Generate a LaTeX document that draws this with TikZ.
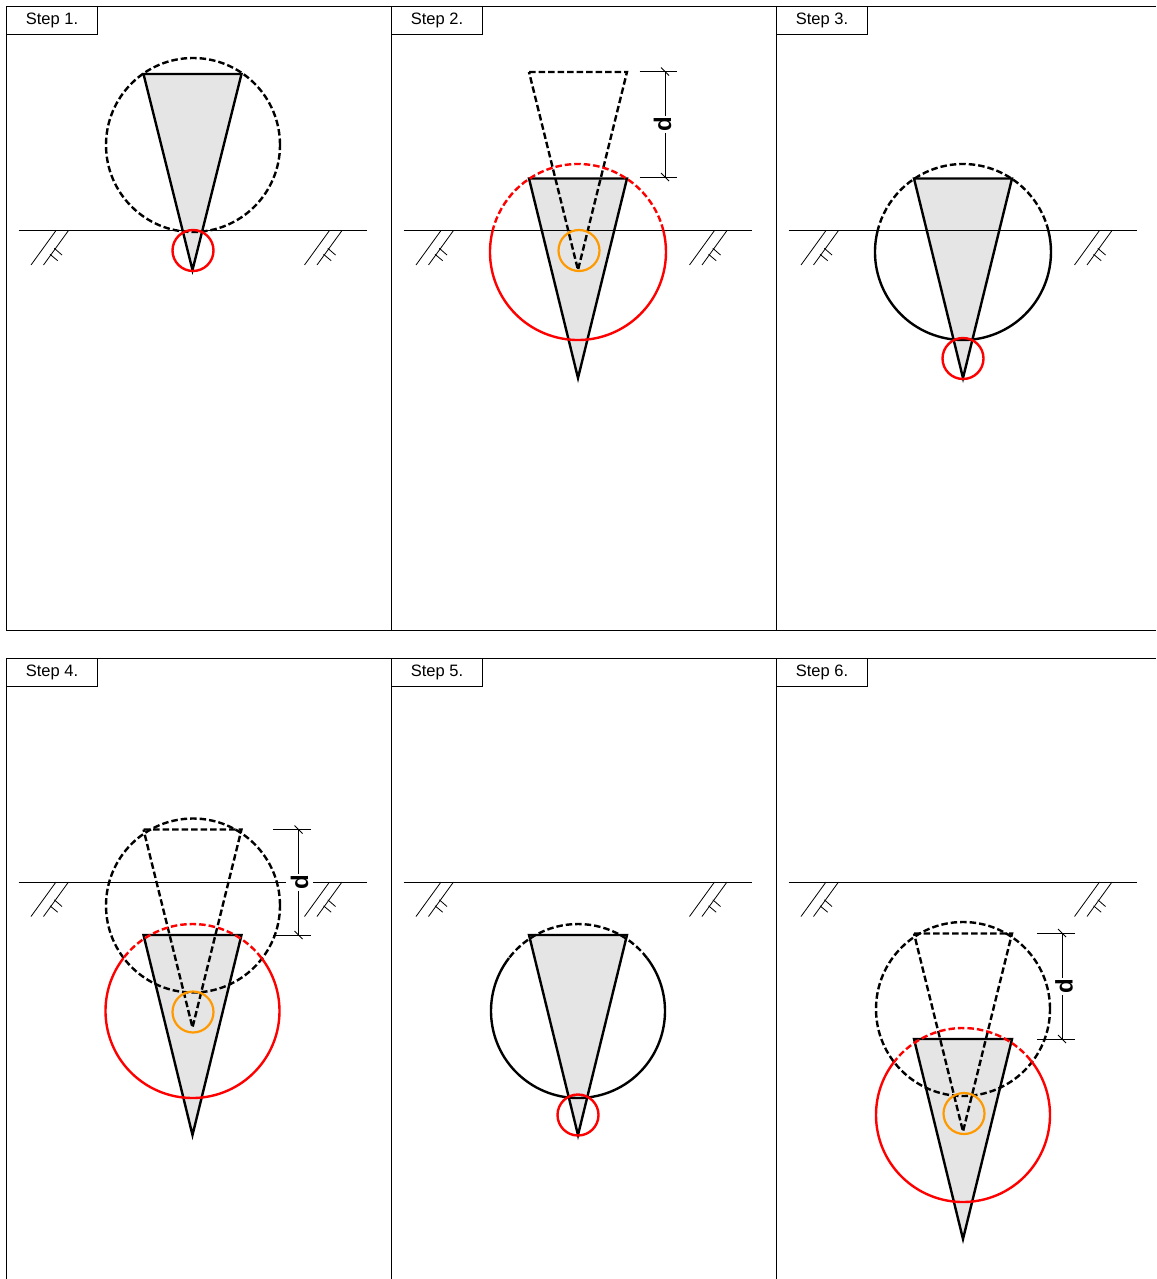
\documentclass[tikz,border=0pt]{standalone}
\usepackage{fontspec}
\setmainfont{Liberation Sans}
\definecolor{conefill}{HTML}{E5E5E5}
\definecolor{drillorange}{HTML}{FF9900}
\tikzset{
  thinline/.style={draw=black,line width=1pt},
  heavy/.style={draw=black,line width=2.4pt},
  heavydash/.style={heavy,dash pattern=on 6.5pt off 3pt},
  redline/.style={draw=red,line width=2.4pt},
  reddash/.style={redline,dash pattern=on 6.5pt off 3pt},
  orangeline/.style={draw=drillorange,line width=2.2pt},
  steplabel/.style={draw=black,fill=white,line width=1pt,minimum width=91pt,minimum height=27.5pt,inner sep=0pt,font=\fontsize{16.5}{18}\selectfont},
  dimlabel/.style={fill=white,rotate=90,inner xsep=1pt,inner ysep=5pt,font=\bfseries\fontsize{24}{24}\selectfont}
}
% #1 centre x, #2 top y, #3 height
\newcommand{\solidcone}[3]{%
  \fill[conefill] (#1-49,#2) -- (#1+49,#2) -- (#1,#2+#3) -- cycle;}
\newcommand{\conestroke}[3]{%
  \draw[heavy] (#1-49,#2) -- (#1+49,#2) -- (#1,#2+#3) -- cycle;}
\newcommand{\ghostcone}[2]{%
  \draw[heavydash] (#1-49,#2) -- (#1+49,#2) -- (#1,#2+198) -- cycle;}
% #1 x offset, #2 ground y
\newcommand{\groundline}[2]{%
  \begin{scope}[shift={(#1,#2)}]
    \draw[thinline] (18.5,0) -- (367,0);
    \foreach \hx in {0,273.5}{
      \draw[thinline,line width=.8pt] (\hx+56,0) -- (\hx+31,34.5);
      \draw[thinline,line width=.8pt] (\hx+68.5,0) -- (\hx+43.5,34.5);
      \draw[thinline,line width=.8pt] (\hx+54.3,17.8) -- (\hx+62,24.5);
      \draw[thinline,line width=.8pt] (\hx+50,23.8) -- (\hx+57.7,30.2);
    }
  \end{scope}}
% #1 cx, #2 cy, #3 r, #4 angle, #5 dashed style, #6 solid style
\newcommand{\splitcircle}[6]{%
  \draw[#5] (#1,#2) ++(#4:#3pt) arc[start angle=#4,end angle=180-#4,radius=#3pt];
  \draw[#6] (#1,#2) ++(180-#4:#3pt) arc[start angle=180-#4,end angle=360+#4,radius=#3pt];}
% #1 name, #2 x left, #3 x right, #4 x line, #5 y top, #6 y bottom, #7 label x, #8 label y
\newcommand{\dimension}[8]{%
  \draw[thinline] (#2,#5) -- (#3,#5);
  \draw[thinline] (#2,#6) -- (#3,#6);
  \draw[thinline,line width=.8pt] (#4,#5) -- (#4,#6);
  \draw[thinline,line width=.8pt] (#4-4,#5-4) -- (#4+4,#5+4);
  \draw[thinline,line width=.8pt] (#4-4,#6-4) -- (#4+4,#6+4);
  \node[dimlabel] (#1) at (#7,#8) {d};}
\newcommand{\steptext}[1]{\raisebox{-1.2pt}{#1}}
\begin{document}
\begin{tikzpicture}[x=1pt,y=-1pt]
\useasboundingbox (0,0) rectangle (1156,1279);
\fill[white] (0,0) rectangle (1156,1279);

% frames
\draw[thinline] (1156,7) -- (6.5,7) -- (6.5,630.5) -- (1156,630.5);
\draw[thinline] (391.5,7) -- (391.5,630.5);
\draw[thinline] (776.5,7) -- (776.5,630.5);
\draw[thinline] (6.5,1279) -- (6.5,658.5) -- (1156,658.5);
\draw[thinline] (391.5,658.5) -- (391.5,1279);
\draw[thinline] (776.5,658.5) -- (776.5,1279);

% Step 1
\solidcone{192.5}{74}{196}
\groundline{0}{230.5}
\conestroke{192.5}{74}{196}
\draw[heavydash] (193,145) circle (87pt);
\draw[redline] (193,250.5) circle (20.5pt);

% Step 2
\solidcone{578}{178.5}{199.5}
\groundline{385}{230.5}
\conestroke{578}{178.5}{199.5}
\ghostcone{578}{72}
\splitcircle{578}{252}{88}{14}{reddash}{redline}
\draw[orangeline] (579,250.5) circle (20.5pt);
\dimension{d2}{639.5}{677}{665}{71.5}{177}{662.5}{124.5}

% Step 3
\solidcone{963}{178.5}{199.5}
\groundline{770}{230.5}
\conestroke{963}{178.5}{199.5}
\splitcircle{963}{252}{88}{14}{heavydash}{heavy}
\draw[redline] (963,358.5) circle (20.5pt);

% Step 4
\solidcone{192.5}{935}{200}
\groundline{0}{882}
\conestroke{192.5}{935}{200}
\ghostcone{192.5}{829.5}
\draw[heavydash] (193,905.5) circle (87pt);
\splitcircle{192.5}{1011}{87}{37.5}{reddash}{redline}
\draw[orangeline] (193,1012) circle (20.5pt);
\dimension{d4}{273}{311}{298.5}{829.5}{935}{299.5}{882.5}

% Step 5
\solidcone{578}{935}{200}
\groundline{385}{882}
\conestroke{578}{935}{200}
\splitcircle{578}{1011}{87}{37.5}{heavydash}{heavy}
\draw[redline] (578,1115) circle (20.5pt);

% Step 6
\solidcone{963}{1039}{200}
\groundline{770}{882}
\conestroke{963}{1039}{200}
\ghostcone{963}{933.5}
\draw[heavydash] (963,1009) circle (87pt);
\splitcircle{963}{1115}{87}{39}{reddash}{redline}
\draw[orangeline] (964,1113.5) circle (20.5pt);
\dimension{d6}{1037}{1075}{1062}{933}{1039}{1064}{986.5}

% labels
\node[steplabel,anchor=north west] (s1) at (6,6.5) {\steptext{Step 1.}};
\node[steplabel,anchor=north west] (s2) at (391,6.5) {\steptext{Step 2.}};
\node[steplabel,anchor=north west] (s3) at (776,6.5) {\steptext{Step 3.}};
\node[steplabel,anchor=north west] (s4) at (6,658) {\steptext{Step 4.}};
\node[steplabel,anchor=north west] (s5) at (391,658) {\steptext{Step 5.}};
\node[steplabel,anchor=north west] (s6) at (776,658) {\steptext{Step 6.}};
\end{tikzpicture}
\end{document}
